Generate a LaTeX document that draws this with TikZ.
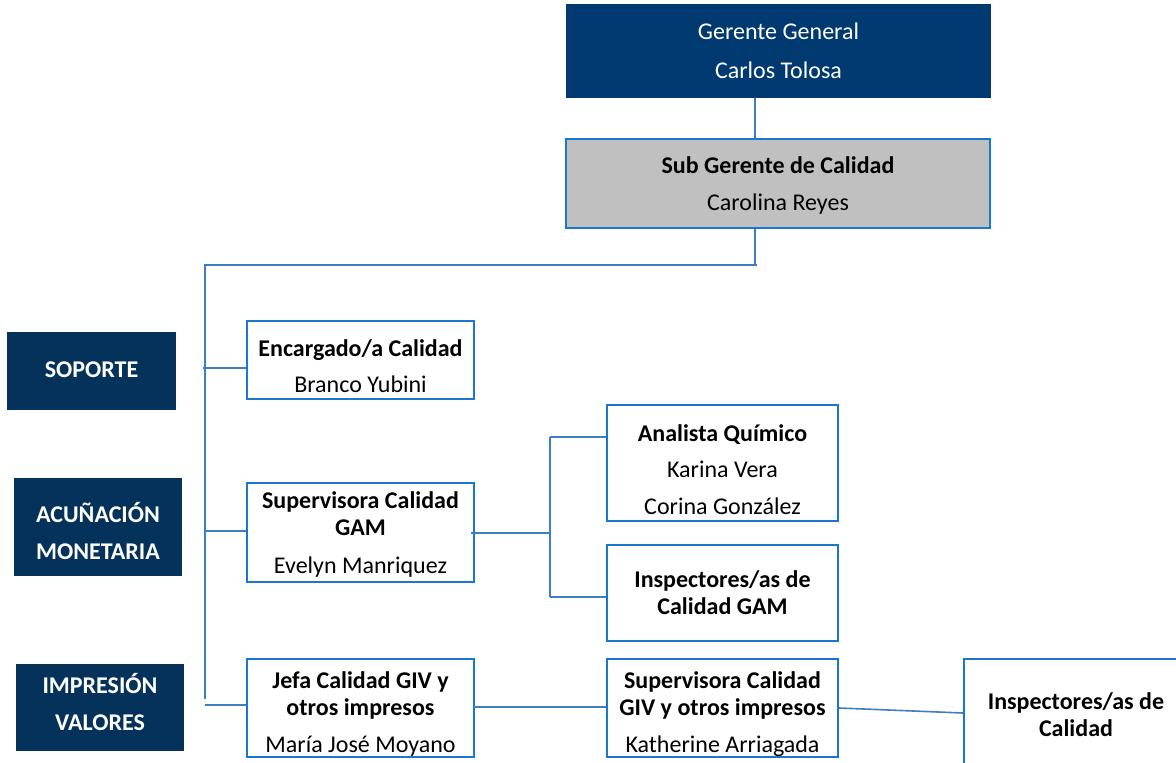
\documentclass[tikz,border=0pt]{standalone}
\usepackage{fontspec}
\setmainfont{Carlito}
\definecolor{navy}{RGB}{0,58,112}
\definecolor{darknavy}{RGB}{5,50,90}
\definecolor{bordercol}{RGB}{25,120,205}
\definecolor{conncol}{RGB}{62,124,196}
\definecolor{greyfill}{RGB}{192,192,192}
\newcommand{\shtext}[2]{\raisebox{#1}[\height][\depth]{\begin{tabular}{@{}c@{}}#2\end{tabular}}}
\begin{document}
\begin{tikzpicture}[x=1pt,y=-1pt,
  box/.style={draw=bordercol, line width=2pt, fill=white, inner sep=0pt,
    font=\fontsize{24}{27}\selectfont, text=black},
  topbox/.style={fill=navy, draw=none, inner sep=0pt,
    font=\fontsize{24}{27}\selectfont, text=white},
  areabox/.style={fill=darknavy, draw=none, inner sep=0pt,
    font=\fontsize{24}{37}\selectfont\bfseries, text=white, minimum width=168pt},
  conn/.style={draw=conncol, line width=1.6pt}]
\useasboundingbox (0,0) rectangle (1176,763);

% nodes
\node[topbox, minimum width=425pt, minimum height=94pt] (gg) at (778.5,51)
  {\shtext{-3pt}{Gerente General\\[12pt]Carlos Tolosa}};
\node[box, fill=greyfill, minimum width=424pt, minimum height=89pt] (sg) at (778,183.5)
  {\shtext{-3pt}{\textbf{Sub Gerente de Calidad}\\[10pt]Carolina Reyes}};
\node[box, minimum width=227pt, minimum height=78pt] (enc) at (360.5,360)
  {\shtext{-9pt}{\textbf{Encargado/a Calidad}\\[9pt]Branco Yubini}};
\node[box, minimum width=227pt, minimum height=99pt] (gam) at (360.5,532.5)
  {\shtext{-3pt}{\textbf{Supervisora Calidad}\\\textbf{GAM}\\[11pt]Evelyn Manriquez}};
\node[box, minimum width=231pt, minimum height=116pt] (ana) at (722.5,463)
  {\shtext{-10pt}{\textbf{Analista Químico}\\[9pt]Karina Vera\\[10pt]Corina González}};
\node[box, minimum width=231pt, minimum height=96pt] (insg) at (722.5,593)
  {\shtext{-3pt}{\textbf{Inspectores/as de}\\\textbf{Calidad GAM}}};
\node[box, minimum width=227pt, minimum height=98pt] (jefa) at (360.5,708)
  {\shtext{-7pt}{\textbf{Jefa Calidad GIV y}\\\textbf{otros impresos}\\[10pt]María José Moyano}};
\node[box, minimum width=231pt, minimum height=98pt] (sgiv) at (722.5,708)
  {\shtext{-7pt}{\textbf{Supervisora Calidad}\\\textbf{GIV y otros impresos}\\[10pt]Katherine Arriagada}};
\node[box, minimum width=224pt, minimum height=108pt] (insc) at (1076,713)
  {\shtext{-5pt}{\textbf{Inspectores/as de}\\\textbf{Calidad}}};

\node[areabox, minimum width=169pt, minimum height=78pt] (sop) at (91.5,371)
  {\shtext{1pt}{SOPORTE}};
\node[areabox, minimum height=98pt] (acu) at (98,527)
  {\shtext{-7pt}{ACUÑACIÓN\\MONETARIA}};
\node[areabox, minimum height=87pt] (imp) at (100,707.5)
  {\shtext{3pt}{IMPRESIÓN\\VALORES}};

% coordinates
\coordinate (t1) at (755,0);
\coordinate (corner) at (205,265);
\coordinate (hend) at (757,265);
\coordinate (trunkend) at (205,699);
\coordinate (b1) at (203,368);
\coordinate (b2) at (205,531);
\coordinate (b3) at (205,705);
\coordinate (c1) at (471,533);
\coordinate (a1) at (550,437);
\coordinate (a2) at (550,597);
\coordinate (d1) at (474,707);

% connectors
\draw[conn] (gg.south -| t1) -- (sg.north -| t1);
\draw[conn] (sg.south -| t1) -- (hend -| t1);
\draw[conn] (hend) -- (corner) -- (trunkend);
\draw[conn] (b1) -- (b1 -| enc.west);
\draw[conn] (b2) -- (b2 -| gam.west);
\draw[conn] (b3) -- (b3 -| jefa.west);
\draw[conn] (c1) -- (c1 -| a1);
\draw[conn] (a1) -- (a2);
\draw[conn] (a1) -- (a1 -| ana.west);
\draw[conn] (a2) -- (a2 -| insg.west);
\draw[conn] (d1) -- (d1 -| sgiv.west);
\draw[conn] (sgiv.east) -- (insc.west);
\end{tikzpicture}
\end{document}
